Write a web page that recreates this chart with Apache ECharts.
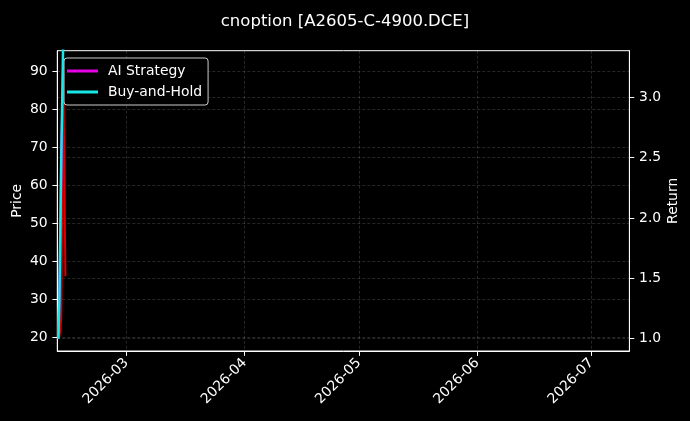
<!DOCTYPE html>
<html>
<head>
<meta charset="utf-8">
<script src="https://cdn.jsdelivr.net/npm/echarts@6/dist/echarts.min.js"></script>
<style>
html,body{margin:0;padding:0;background:#000;}
#c{width:690px;height:421px;}
</style>
</head>
<body>
<div id="c"></div>
<script>
// ---- data ----
const priceTimes = ['2026-02-11T09:00', '2026-02-11T15:00', '2026-02-11T21:00', '2026-02-11T23:00', '2026-02-12T09:00', '2026-02-12T15:00', '2026-02-12T21:00', '2026-02-12T23:00'];
const priceValues = [20, 22, 25, 34, 92, 70, 45, 36];
const strategyTimes = ['2026-02-11T03:00', '2026-02-11T09:00', '2026-02-11T15:00', '2026-02-11T21:00', '2026-02-12T09:00'];
const aiStrategy = [1.0, 1.35, 1.75, 2.45, 3.2];
const buyAndHold = [1.0, 1.3, 1.9, 2.5, 3.45];
const monthTicks = ['2026-03-01T00:00', '2026-04-01T00:00', '2026-05-01T00:00', '2026-06-01T00:00', '2026-07-01T00:00'];
const priceTicks = [20, 30, 40, 50, 60, 70, 80, 90];
const returnTicks = [1.0, 1.5, 2.0, 2.5, 3.0];

const t = s => new Date(s).getTime();
const pair = (ts, vs) => ts.map((d, i) => [t(d), vs[i]]);
const FONT = 'DejaVu Sans';
const gridLine = {show: true, lineStyle: {color: 'rgba(255,255,255,0.25)', type: [3, 2], width: 0.6}};
const monthVals = monthTicks.map(t);

const chart = echarts.init(document.getElementById('c'), null, {renderer: 'canvas'});
chart.setOption({
  backgroundColor: '#000',
  animation: false,
  title: {
    text: 'cnoption [A2605-C-4900.DCE]',
    left: 'center', top: 8,
    textStyle: {color: '#fff', fontFamily: FONT, fontSize: 16.5, fontWeight: 'normal'}
  },
  legend: {
    data: ['AI Strategy', 'Buy-and-Hold'],
    orient: 'vertical',
    left: 64, top: 58,
    itemWidth: 31, itemHeight: 3, itemGap: 7,
    icon: 'rect',
    padding: [6, 6, 6, 3],
    backgroundColor: 'rgba(0,0,0,0.8)',
    borderColor: '#cccccc', borderWidth: 1, borderRadius: 3,
    textStyle: {color: '#fff', fontFamily: FONT, fontSize: 13.9, padding: [0, 0, 0, 5]}
  },
  grid: {
    left: 57.3, right: 60.6, top: 50.7, bottom: 70,
    outerBoundsMode: 'none', containLabel: false,
    show: true, borderColor: '#fff', borderWidth: 1, backgroundColor: 'transparent'
  },
  xAxis: {
    type: 'value',
    min: t('2026-02-10T20:10'), max: t('2026-07-10T22:50'),
    axisLine: {show: true, lineStyle: {color: '#fff', width: 1}},
    axisTick: {show: true, length: 4.9, lineStyle: {color: '#fff'}, customValues: monthVals},
    splitLine: Object.assign({customValues: monthVals}, gridLine),
    axisLabel: {
      customValues: monthVals,
      rotate: 45, margin: 9.7, color: '#fff', fontFamily: FONT, fontSize: 13.9,
      formatter: v => { const d = new Date(v); return d.getFullYear() + '-' + String(d.getMonth() + 1).padStart(2, '0'); }
    }
  },
  yAxis: [{
    type: 'value', position: 'left',
    min: 16.3, max: 95.5,
    name: 'Price', nameLocation: 'middle', nameGap: 33, nameRotate: 90, nameMoveOverlap: false,
    nameTextStyle: {color: '#fff', fontFamily: FONT, fontSize: 13.9},
    axisLine: {show: true, lineStyle: {color: '#fff'}},
    axisTick: {show: true, length: 4.9, lineStyle: {color: '#fff'}, customValues: priceTicks},
    splitLine: Object.assign({customValues: priceTicks}, gridLine),
    axisLabel: {customValues: priceTicks, margin: 9.7, color: '#fff', fontFamily: FONT, fontSize: 13.9}
  }, {
    type: 'value', position: 'right',
    min: 0.898, max: 3.387,
    name: 'Return', nameLocation: 'middle', nameGap: 37, nameRotate: 90, nameMoveOverlap: false,
    nameTextStyle: {color: '#fff', fontFamily: FONT, fontSize: 13.9},
    axisLine: {show: true, lineStyle: {color: '#fff'}},
    axisTick: {show: true, length: 4.9, lineStyle: {color: '#fff'}, customValues: returnTicks},
    splitLine: Object.assign({customValues: returnTicks}, gridLine),
    axisLabel: {customValues: returnTicks, margin: 9.7, color: '#fff', fontFamily: FONT, fontSize: 13.9,
      formatter: v => v.toFixed(1)}
  }],
  series: [{
    name: 'Price', type: 'line', yAxisIndex: 0, data: pair(priceTimes, priceValues),
    showSymbol: false, lineStyle: {color: 'rgba(255,0,0,0.85)', width: 2}, itemStyle: {color: '#ff0000'}, z: 2
  }, {
    name: 'AI Strategy', type: 'line', yAxisIndex: 1, data: pair(strategyTimes, aiStrategy),
    showSymbol: false, lineStyle: {color: '#e600e6', width: 2.5}, itemStyle: {color: '#e600e6'}, z: 3
  }, {
    name: 'Buy-and-Hold', type: 'line', yAxisIndex: 1, data: pair(strategyTimes, buyAndHold),
    showSymbol: false, lineStyle: {color: '#19e6e6', width: 2.5}, itemStyle: {color: '#19e6e6'}, z: 4
  }]
});
</script>
</body>
</html>
